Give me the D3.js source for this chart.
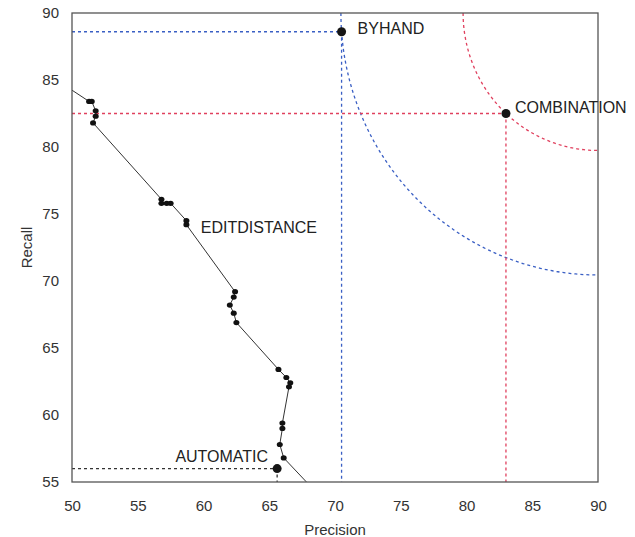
<!DOCTYPE html>
<html>
<head>
<meta charset="utf-8">
<script src="https://cdn.jsdelivr.net/npm/d3@7"></script>
<style>
  body { margin: 0; background: #fff; }
  text { font-family: "Liberation Sans", Arial, sans-serif; }
</style>
</head>
<body>
<div id="chart"></div>
<script>
// precision / recall of the edit-distance runs (first and last points lie outside the frame)
const editPrecision = [49.6, 51.3, 51.5, 51.8, 51.8, 51.6, 56.8, 56.8, 57.2, 57.5, 58.7, 58.7,
  62.4, 62.3, 62.0, 62.3, 62.5, 65.7, 66.3, 66.6, 66.5, 66.0, 66.0, 65.8, 66.1, 68.6]
const editRecall = [84.5, 83.4, 83.4, 82.7, 82.3, 81.8, 76.1, 75.8, 75.8, 75.8, 74.5, 74.2,
  69.2, 68.8, 68.2, 67.6, 66.9, 63.4, 62.8, 62.4, 62.1, 59.4, 59.0, 57.8, 56.8, 54.2]

const methods = ['BYHAND', 'COMBINATION', 'AUTOMATIC']
const methodPrecision = [70.5, 83.0, 65.6]
const methodRecall = [88.6, 82.5, 56.0]
const methodColors = ['#3a5fc4', '#e0405e', '#333333']

const xTicks = [50, 55, 60, 65, 70, 75, 80, 85, 90]
const yTicks = [55, 60, 65, 70, 75, 80, 85, 90]
const ideal = [90, 90]

const width = 635, height = 537
const margin = { top: 13, right: 37, bottom: 55, left: 72 }

const x = d3.scaleLinear().domain([50, 90]).range([margin.left, width - margin.right])
const y = d3.scaleLinear().domain([55, 90]).range([height - margin.bottom, margin.top])

const svg = d3.select('#chart').append('svg')
  .attr('width', width)
  .attr('height', height)

svg.append('clipPath').attr('id', 'plot')
  .append('rect')
  .attr('x', margin.left).attr('y', margin.top)
  .attr('width', x(90) - x(50)).attr('height', y(55) - y(90))

const plot = svg.append('g').attr('clip-path', 'url(#plot)')

// iso-distance arcs around the ideal corner
const line = d3.line().x(d => x(d[0])).y(d => y(d[1]))
methods.slice(0, 2).forEach(function (m, i) {
  const r = Math.hypot(methodPrecision[i] - ideal[0], methodRecall[i] - ideal[1])
  const pts = d3.range(0, 91).map(a => {
    const t = a * Math.PI / 180
    return [ideal[0] - r * Math.cos(t), ideal[1] - r * Math.sin(t)]
  })
  plot.append('path')
    .attr('d', line(pts))
    .attr('fill', 'none')
    .attr('stroke', methodColors[i])
    .attr('stroke-width', 1.3)
    .attr('stroke-dasharray', '3,3')
})

// guide lines from the axes to each method point
methods.forEach(function (m, i) {
  const g = plot.append('g')
    .attr('stroke', methodColors[i])
    .attr('stroke-width', 1.3)
    .attr('stroke-dasharray', '3,3')
  g.append('line')
    .attr('x1', x(50)).attr('x2', x(methodPrecision[i]))
    .attr('y1', y(methodRecall[i])).attr('y2', y(methodRecall[i]))
  g.append('line')
    .attr('x1', x(methodPrecision[i])).attr('x2', x(methodPrecision[i]))
    .attr('y1', y(methodRecall[i])).attr('y2', y(55))
})

// edit distance curve
const editPts = editPrecision.map((p, i) => [p, editRecall[i]])
plot.append('path')
  .attr('d', line(editPts))
  .attr('fill', 'none')
  .attr('stroke', '#333')
  .attr('stroke-width', 1)

plot.selectAll('.edit')
  .data(editPts)
  .enter()
  .append('ellipse')
  .attr('cx', d => x(d[0]))
  .attr('cy', d => y(d[1]))
  .attr('rx', 3)
  .attr('ry', 2.6)
  .attr('fill', '#111')

// method points
svg.selectAll('.method')
  .data(methods)
  .enter()
  .append('circle')
  .attr('cx', (d, i) => x(methodPrecision[i]))
  .attr('cy', (d, i) => y(methodRecall[i]))
  .attr('r', 4.5)
  .attr('fill', '#151515')

// frame
svg.append('rect')
  .attr('x', margin.left).attr('y', margin.top)
  .attr('width', x(90) - x(50)).attr('height', y(55) - y(90))
  .attr('fill', 'none')
  .attr('stroke', '#555')
  .attr('stroke-width', 1.3)

// axes
const xAxis = svg.append('g')
  .attr('transform', 'translate(0,' + (height - margin.bottom) + ')')
  .call(d3.axisBottom(x).tickValues(xTicks).tickSize(0).tickPadding(18))
const yAxis = svg.append('g')
  .attr('transform', 'translate(' + margin.left + ',0)')
  .call(d3.axisLeft(y).tickValues(yTicks).tickSize(0).tickPadding(13))
;[xAxis, yAxis].forEach(a => {
  a.select('.domain').remove()
  a.selectAll('text')
    .style('font-family', '"Liberation Sans", Arial, sans-serif')
    .style('font-size', '15px')
    .attr('fill', '#333')
})

svg.append('text')
  .attr('x', (x(50) + x(90)) / 2)
  .attr('y', 535)
  .attr('text-anchor', 'middle')
  .style('font-size', '15px')
  .attr('fill', '#333')
  .text('Precision')

svg.append('text')
  .attr('transform', 'translate(32,' + (y(55) + y(90)) / 2 + ')rotate(-90)')
  .attr('text-anchor', 'middle')
  .style('font-size', '15px')
  .attr('fill', '#333')
  .text('Recall')

// point labels
const labels = [
  { text: 'BYHAND', p: methodPrecision[0], r: methodRecall[0], dx: 16, dy: 2, anchor: 'start' },
  { text: 'COMBINATION', p: methodPrecision[1], r: methodRecall[1], dx: 9, dy: -1, anchor: 'start' },
  { text: 'AUTOMATIC', p: methodPrecision[2], r: methodRecall[2], dx: -9, dy: -7, anchor: 'end' },
  { text: 'EDITDISTANCE', p: 59.8, r: 73.6, dx: 0, dy: 0, anchor: 'start' }
]
svg.selectAll('.lbl')
  .data(labels)
  .enter()
  .append('text')
  .attr('x', d => x(d.p) + d.dx)
  .attr('y', d => y(d.r) + d.dy)
  .attr('text-anchor', d => d.anchor)
  .style('font-size', '16px')
  .attr('fill', '#222')
  .text(d => d.text)
</script>
</body>
</html>
